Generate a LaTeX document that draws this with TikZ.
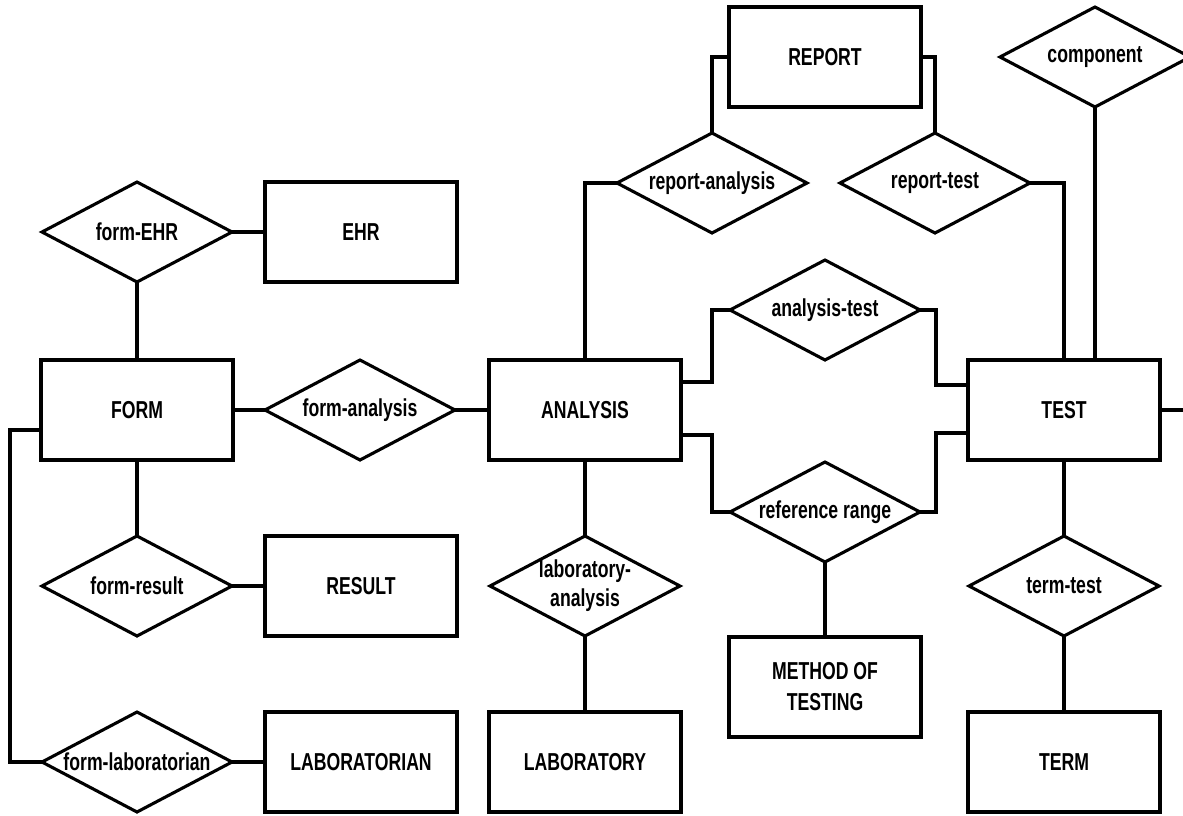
\documentclass[tikz,border=0pt]{standalone}
\usepackage{fontspec}
\setmainfont{Liberation Sans}
\newfontfamily\labelfont{Liberation Sans Bold}[FakeStretch=0.72]
\usetikzlibrary{shapes.geometric}
\newcommand\rtext[1]{\makebox[0pt]{#1}}
\tikzset{
  entity/.style={draw, rectangle, line width=3.1pt, minimum width=192pt,
    minimum height=100pt, inner sep=0pt, outer sep=0pt, align=center,
    font=\labelfont\fontsize{24.5}{31}\selectfont},
  relation/.style={draw, diamond, line width=3.1pt, minimum width=190pt,
    minimum height=100pt, inner sep=0pt, outer sep=0pt, align=center,
    font=\labelfont\fontsize{24.5}{31}\selectfont},
  link/.style={line width=3.1pt, line cap=rect}
}
\begin{document}
\begin{tikzpicture}[x=1pt, y=-1pt]
\useasboundingbox (0,0) rectangle (1183,815);

% entities
\node[entity] (report) at (825,57) {REPORT};
\node[entity] (ehr) at (361,232) {EHR};
\node[entity] (form) at (137,410) {FORM};
\node[entity] (analysis) at (585,410) {ANALYSIS};
\node[entity] (test) at (1064,410) {TEST};
\node[entity] (result) at (361,586) {RESULT};
\node[entity] (method) at (825,687) {METHOD OF\\TESTING};
\node[entity] (laboratorian) at (361,762) {LABORATORIAN};
\node[entity] (laboratory) at (585,762) {LABORATORY};
\node[entity] (term) at (1064,762) {TERM};

% relationships
\node[relation] (component) at (1095,57) {\rtext{component}};
\node[relation] (repana) at (712,183) {\rtext{report-analysis}};
\node[relation] (reptest) at (935,183) {\rtext{report-test}};
\node[relation] (formehr) at (137,232) {\rtext{form-EHR}};
\node[relation] (anatest) at (825,310) {\rtext{analysis-test}};
\node[relation] (formana) at (360,410) {\rtext{form-analysis}};
\node[relation] (refrange) at (825,512) {\rtext{reference range}};
\node[relation] (formres) at (137,586) {\rtext{form-result}};
\node[relation] (labana) at (585,586) {\rtext{\begin{tabular}{@{}c@{}}laboratory-\\[-2pt]analysis\end{tabular}}};
\node[relation] (termtest) at (1064,586) {\rtext{term-test}};
\node[relation] (formlab) at (137,762) {\rtext{form-laboratorian}};

\coordinate (testout) at (1183,410);

% connectors
\draw[link] (report.west) -| (repana.north);
\draw[link] (report.east) -| (reptest.north);
\draw[link] (repana.west) -| (analysis.north);
\draw[link] (reptest.east) -| (test.north);
\draw[link] (component.south) -- (component.south |- test.north);

\draw[link] (formehr.east) -- (ehr.west);
\draw[link] (formehr.south) -- (form.north);
\draw[link] (form.east) -- (formana.west);
\draw[link] (formana.east) -- (analysis.west);

\draw[link] ([yshift=28pt]analysis.east) -- ++(31,0) |- (anatest.west);
\draw[link] (anatest.east) -- ++(16,0) |- ([yshift=25pt]test.west);
\draw[link] ([yshift=-25pt]analysis.east) -- ++(31,0) |- (refrange.west);
\draw[link] (refrange.east) -- ++(16,0) |- ([yshift=-23pt]test.west);
\draw[link] (refrange.south) -- (method.north);

\draw[link] (test.south) -- (termtest.north);
\draw[link] (termtest.south) -- (term.north);
\draw[link] (test.east) -- (testout);

\draw[link] (analysis.south) -- (labana.north);
\draw[link] (labana.south) -- (laboratory.north);

\draw[link] (form.south) -- (formres.north);
\draw[link] (formres.east) -- (result.west);
\draw[link] ([yshift=-20pt]form.west) -- ++(-31,0) |- (formlab.west);
\draw[link] (formlab.east) -- (laboratorian.west);
\end{tikzpicture}
\end{document}
